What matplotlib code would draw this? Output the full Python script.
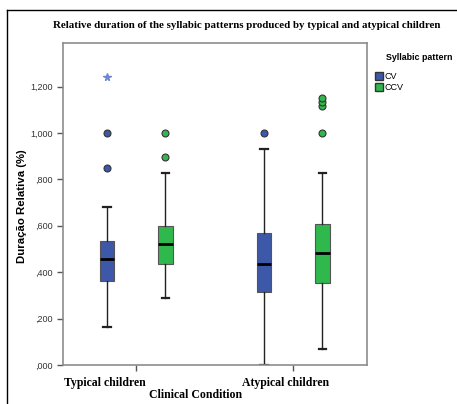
import numpy as np
import matplotlib
matplotlib.use('Agg')
from matplotlib import pyplot as plt
from matplotlib.patches import Patch
from matplotlib.lines import Line2D
from matplotlib.transforms import blended_transform_factory

# valores
grupos = ['Typical children', 'Atypical children']
padroes = ['CV', 'CCV']

cv_q1 = [0.363, 0.316]
cv_med = [0.455, 0.434]
cv_q3 = [0.534, 0.568]
cv_min = [0.162, 0.000]
cv_max = [0.682, 0.932]
cv_out = [[0.850, 1.000], [1.000]]
cv_ext = [[1.240], []]

ccv_q1 = [0.434, 0.352]
ccv_med = [0.520, 0.484]
ccv_q3 = [0.600, 0.608]
ccv_min = [0.289, 0.068]
ccv_max = [0.829, 0.826]
ccv_out = [[0.897, 1.000], [1.000, 1.116, 1.135, 1.149]]
ccv_ext = [[], []]

yticks = [0.0, 0.2, 0.4, 0.6, 0.8, 1.0, 1.2]

cor_cv = '#3d58a8'
cor_ccv = '#2fb84c'


def monta_stats(q1, med, q3, lo, hi, out):
    stats = []
    for i in range(len(q1)):
        stats.append({'q1': q1[i], 'med': med[i], 'q3': q3[i],
                      'whislo': lo[i], 'whishi': hi[i], 'fliers': out[i]})
    return stats


def fmt_y(v):
    s = '%.3f' % v
    s = s.replace('.', ',')
    if s.startswith('0'):
        s = s[1:]
    return s


fig = plt.figure(figsize=(4.57, 4.04), dpi=100)
ax = fig.add_axes([63 / 457, 39 / 404, 304 / 457, 322 / 404])

x = np.arange(len(grupos))
desloc = 0.185
larg = 0.095

for serie, cor, pos in [
        (monta_stats(cv_q1, cv_med, cv_q3, cv_min, cv_max, cv_out), cor_cv, x - desloc),
        (monta_stats(ccv_q1, ccv_med, ccv_q3, ccv_min, ccv_max, ccv_out), cor_ccv, x + desloc)]:
    ax.bxp(serie, positions=pos, widths=larg, patch_artist=True, manage_ticks=False,
           capwidths=0.045,
           boxprops=dict(facecolor=cor, edgecolor='#555555', linewidth=0.8),
           medianprops=dict(color='black', linewidth=2),
           whiskerprops=dict(color='#222222', linewidth=1),
           capprops=dict(color='#222222', linewidth=1.6),
           flierprops=dict(marker='o', markerfacecolor=cor, markeredgecolor='#333333',
                           markersize=5, markeredgewidth=0.8, linestyle='none'))

# valores extremos (asterisco)
for ext, cor, pos in [(cv_ext, '#6f86d6', x - desloc), (ccv_ext, '#5fd07a', x + desloc)]:
    for i in range(len(ext)):
        if ext[i]:
            ax.plot([pos[i]] * len(ext[i]), ext[i], linestyle='none', marker='*',
                    color=cor, markersize=5.5)

ax.set_xlim(-0.465, 1.471)
ax.set_ylim(0, 1.388)
ax.set_yticks(yticks)
ax.set_yticklabels([fmt_y(v) for v in yticks], fontsize=6.5, color='#333333',
                   family='Liberation Sans')
ax.set_xticks(x)
ax.set_xticklabels(['', ''])
ax.tick_params(axis='both', direction='out', length=4, width=1, color='#555555')

for lado in ax.spines.values():
    lado.set_color('#8c8c8c')
    lado.set_linewidth(1.2)

# rotulos das categorias (deslocados como no original)
tr = blended_transform_factory(ax.transData, fig.transFigure)
rot_x = [-0.197, 0.955]
for i, g in enumerate(grupos):
    fig.text(rot_x[i], 1 - 383 / 404, g, transform=tr, ha='center', va='center',
             family='Liberation Serif', fontweight='bold', fontsize=8.5)

fig.text(196 / 457, 1 - 395 / 404, 'Clinical Condition', ha='center', va='center',
         family='Liberation Serif', fontweight='bold', fontsize=8.5)
fig.text(22 / 457, 1 - 206 / 404, 'Duração Relativa (%)', ha='center', va='center',
         rotation=90, family='Liberation Sans', fontweight='bold', fontsize=8.2)
fig.text(247 / 457, 1 - 26 / 404,
         'Relative duration of the syllabic patterns produced by typical and atypical children',
         ha='center', va='center', family='Liberation Serif', fontweight='bold', fontsize=7.8)

# legenda
fig.text(386 / 457, 1 - 57 / 404, 'Syllabic pattern', ha='left', va='center',
         family='Liberation Sans', fontweight='bold', fontsize=6.4)
alcas = [Patch(facecolor=cor_cv, edgecolor='#333333', label=padroes[0]),
         Patch(facecolor=cor_ccv, edgecolor='#333333', label=padroes[1])]
leg = fig.legend(handles=alcas, loc='upper left', bbox_to_anchor=(375 / 457, 1 - 72 / 404),
                 frameon=False, prop={'family': 'Liberation Sans', 'size': 6.5},
                 handlelength=0.9, handleheight=0.9, handletextpad=0.2, labelspacing=0.25,
                 borderpad=0, borderaxespad=0)

# moldura externa
fig.add_artist(Line2D([7 / 457, 1], [1 - 10 / 404, 1 - 10 / 404], color='black', linewidth=1))
fig.add_artist(Line2D([7 / 457, 7 / 457], [0, 1 - 10 / 404], color='black', linewidth=1))

fig.savefig('out.png', dpi=100)
